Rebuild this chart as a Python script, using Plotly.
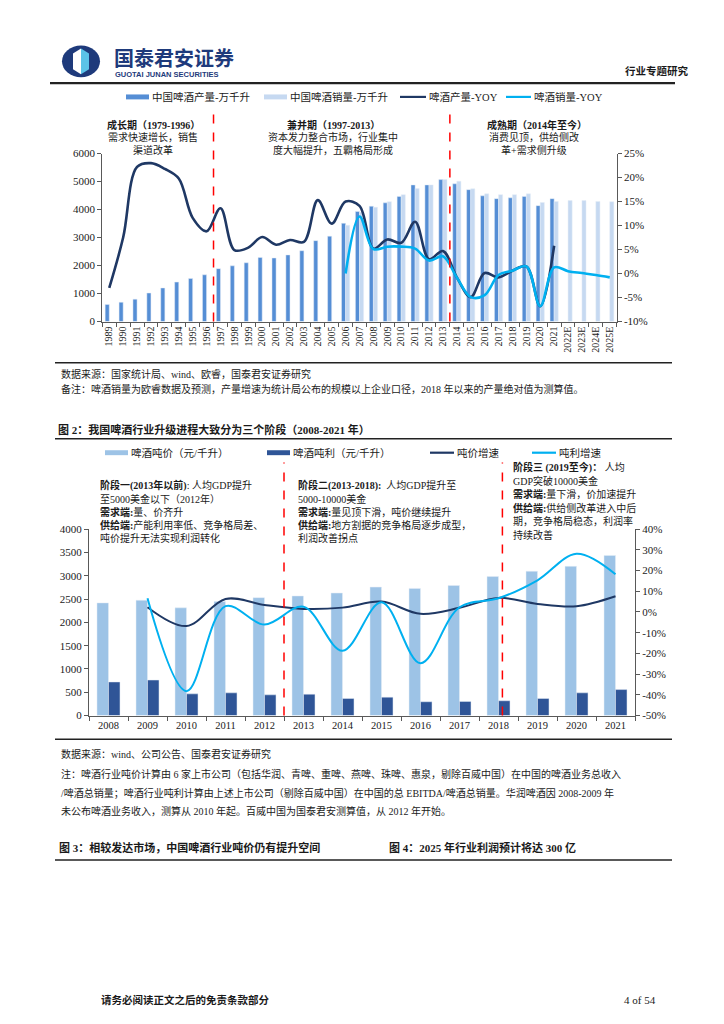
import plotly.graph_objects as go

W, H = 724, 1024


def px(x):
    return x / W


def py(y):
    return 1 - y / H


# ---------------- Chart 1 data ----------------
years1 = ["1989", "1990", "1991", "1992", "1993", "1994", "1995", "1996", "1997", "1998",
          "1999", "2000", "2001", "2002", "2003", "2004", "2005", "2006", "2007", "2008",
          "2009", "2010", "2011", "2012", "2013", "2014", "2015", "2016", "2017", "2018",
          "2019", "2020", "2021", "2022E", "2023E", "2024E", "2025E"]
production = [610, 690, 800, 1020, 1200, 1410, 1540, 1670, 1890, 1990,
              2100, 2290, 2270, 2380, 2530, 2890, 3050, 3510, 3930, 4120,
              4240, 4470, 4880, 4880, 5070, 4920, 4710, 4490, 4390, 4420,
              4470, 4140, 4390, None, None, None, None]
sales = [None] * 17 + [3440, 3900, 4080, 4280, 4530, 4750, 4880, 5070, 5010, 4740,
                       4560, 4530, 4530, 4560, 4250, 4290, 4320, 4320, 4290, 4280]
prod_yoy = [-3.0, 7.5, 22.2, 23.0, 21.8, 19.8, 11.6, 8.8, 13.6, 4.9,
            5.4, 7.6, 6.0, 7.0, 6.6, 15.3, 10.4, 15.0, 14.1, 5.2,
            7.1, 6.4, 10.8, 3.0, 4.7, -0.8, -4.9, 0.1, -0.8, 0.6,
            1.5, -6.8, 5.8]
sales_yoy = [0.0, 11.9, 5.1, 5.6, 5.6, 5.2, 2.7, 3.6, -0.8, -4.9,
             -4.5, -0.3, 0.6, 1.5, -6.8, 1.3, 0.5, 0.1, -0.3, -0.8]
left1_ticks = [0, 1000, 2000, 3000, 4000, 5000, 6000]
right1_ticks = [-10, -5, 0, 5, 10, 15, 20, 25]
right1_text = ["-10%", "-5%", "0%", "5%", "10%", "15%", "20%", "25%"]

# ---------------- Chart 2 data ----------------
years2 = ["2008", "2009", "2010", "2011", "2012", "2013", "2014",
          "2015", "2016", "2017", "2018", "2019", "2020", "2021"]
price = [2417, 2473, 2311, 2445, 2530, 2565, 2629, 2756, 2728, 2791, 2982, 3095, 3201, 3435]
profit = [721, 763, 466, 488, 445, 459, 367, 396, 297, 304, 318, 367, 488, 558]
price_growth = [None, 2.3, -6.8, 6.3, 3.4, 1.5, 2.1, 5.0, -0.9, 2.0, 6.8, 3.9, 2.8, 7.6]
profit_growth = [None, 6.6, -38.2, 2.8, -6.1, 2.5, -18.7, 4.7, -24.7, 2.3, 6.6, 15.3, 28.1, 18.2]
left2_ticks = [0, 500, 1000, 1500, 2000, 2500, 3000, 3500, 4000]
right2_ticks = [-50, -40, -30, -20, -10, 0, 10, 20, 30, 40]
right2_text = ["-50%", "-40%", "-30%", "-20%", "-10%", "0%", "10%", "20%", "30%", "40%"]

C_PROD = "#558ED5"
C_SALES = "#C6D9F1"
C_NAVY = "#1F3864"
C_CYAN = "#00B0F0"
C_PRICE = "#9DC3E6"
C_PROFIT = "#2F5597"
AX = "#595959"
TXT = "#1a1a1a"
NAVY_LOGO = "#1E3A7B"

FONT = "Liberation Serif, Noto Sans CJK SC"
CJK = "Noto Sans CJK SC"

fig = go.Figure()

# Chart 1 traces
fig.add_trace(go.Bar(x=years1, y=production, marker_color=C_PROD, name="中国啤酒产量-万千升",
                     xaxis="x", yaxis="y", showlegend=False))
fig.add_trace(go.Bar(x=years1, y=sales, marker_color=C_SALES, name="中国啤酒销量-万千升",
                     xaxis="x", yaxis="y", showlegend=False))
fig.add_trace(go.Scatter(x=years1[:len(prod_yoy)], y=prod_yoy, mode="lines", name="啤酒产量-YOY",
                         line=dict(color=C_NAVY, width=2.6, shape="spline", smoothing=1.0),
                         xaxis="x", yaxis="y2", showlegend=False))
fig.add_trace(go.Scatter(x=years1[17:], y=sales_yoy, mode="lines", name="啤酒销量-YOY",
                         line=dict(color=C_CYAN, width=2.6, shape="spline", smoothing=1.0),
                         xaxis="x", yaxis="y2", showlegend=False))

# Chart 2 traces
fig.add_trace(go.Bar(x=years2, y=price, marker_color=C_PRICE, name="啤酒吨价（元/千升）",
                     xaxis="x2", yaxis="y3", showlegend=False))
fig.add_trace(go.Bar(x=years2, y=profit, marker_color=C_PROFIT, name="啤酒吨利（元/千升）",
                     xaxis="x2", yaxis="y3", showlegend=False))
fig.add_trace(go.Scatter(x=years2, y=price_growth, mode="lines", name="吨价增速",
                         line=dict(color=C_NAVY, width=2, shape="spline", smoothing=1.0),
                         xaxis="x2", yaxis="y4", showlegend=False))
fig.add_trace(go.Scatter(x=years2, y=profit_growth, mode="lines", name="吨利增速",
                         line=dict(color=C_CYAN, width=2, shape="spline", smoothing=1.0),
                         xaxis="x2", yaxis="y4", showlegend=False))

axis_common = dict(showline=True, linecolor=AX, linewidth=1, ticks="outside", ticklen=4,
                   tickcolor=AX, showgrid=False, zeroline=False,
                   tickfont=dict(family="Liberation Serif", size=11, color=TXT))

fig.update_layout(
    width=W, height=H, autosize=False,
    margin=dict(l=0, r=0, t=0, b=0),
    paper_bgcolor="white", plot_bgcolor="rgba(0,0,0,0)",
    font=dict(family=FONT, color=TXT, size=10),
    barmode="group", bargap=0.41, bargroupgap=0,
    xaxis=dict(domain=[px(102.3), px(616.7)], anchor="y", type="category",
               tickson="boundaries", tickangle=-90,
               **{**axis_common, "tickfont": dict(family="Liberation Serif", size=10, color=TXT)}),
    yaxis=dict(domain=[py(319.3), py(149.3)], anchor="x", range=[0, 6000],
               tickvals=left1_ticks, **axis_common),
    yaxis2=dict(overlaying="y", side="right", anchor="x", range=[-10, 25],
                tickvals=right1_ticks, ticktext=right1_text, **axis_common),
    xaxis2=dict(domain=[px(89), px(635)], anchor="y3", type="category",
                tickson="boundaries",
                **{**axis_common, "tickfont": dict(family="Liberation Serif", size=10.5, color=TXT)}),
    yaxis3=dict(domain=[py(718), py(529.3)], anchor="x2", range=[0, 4000],
                tickvals=left2_ticks, **axis_common),
    yaxis4=dict(overlaying="y3", side="right", anchor="x2", range=[-50, 40],
                tickvals=right2_ticks, ticktext=right2_text, **axis_common),
)

shapes = []
annots = []


def hline(x0, x1, y, w=1.5, color="#222222"):
    shapes.append(dict(type="line", xref="paper", yref="paper", x0=px(x0), x1=px(x1),
                       y0=py(y), y1=py(y), line=dict(color=color, width=w)))


def text(x, y, s, size=10, anchor="left", family=FONT, color=TXT):
    annots.append(dict(x=px(x), y=py(y), xref="paper", yref="paper", text=s, showarrow=False,
                       xanchor=anchor, yanchor="middle", align=anchor, borderpad=0,
                       font=dict(family=family, size=size, color=color)))


def legend_rect(x0, x1, y, color, label, hgt=5):
    shapes.append(dict(type="rect", xref="paper", yref="paper", x0=px(x0), x1=px(x1),
                       y0=py(y + hgt / 2), y1=py(y - hgt / 2), fillcolor=color, line=dict(width=0)))
    text(x1 + 2, y, label, size=10.5)


def legend_line(x0, x1, y, color, label):
    shapes.append(dict(type="line", xref="paper", yref="paper", x0=px(x0), x1=px(x1),
                       y0=py(y), y1=py(y), line=dict(color=color, width=2.2)))
    text(x1 + 2, y, label, size=10.5)


def red_dash(xref, xval, ytop, ybot):
    shapes.append(dict(type="line", xref=xref, yref="paper", x0=xval, x1=xval,
                       y0=py(ybot), y1=py(ytop), line=dict(color="#FF0000", width=1.5, dash="dash")))


# ---------- Header ----------
shapes.append(dict(type="circle", xref="paper", yref="paper", x0=px(62), x1=px(100),
                   y0=py(72), y1=py(40), fillcolor=NAVY_LOGO, line=dict(width=0)))
hex_left = "M {a},{b} L {c},{d} L {c},{e} L {a},{f} Z".format(
    a=px(81), b=py(43), c=px(73), d=py(48), e=py(64), f=py(69))
hex_right = "M {a},{b} L {c},{d} L {c},{e} L {a},{f} Z".format(
    a=px(81), b=py(43), c=px(89), d=py(48), e=py(64), f=py(69))
shapes.append(dict(type="path", xref="paper", yref="paper", path=hex_left,
                   fillcolor="white", line=dict(width=0)))
shapes.append(dict(type="path", xref="paper", yref="paper", path=hex_right,
                   fillcolor="#5BC3E8", line=dict(width=0)))
text(113, 52, "<b>国泰君安证券</b>", size=20, family=CJK, color=NAVY_LOGO)
text(114, 69.5, "<b>GUOTAI JUNAN SECURITIES</b>", size=7.5, family="Liberation Sans", color=NAVY_LOGO)
text(690, 65, "<b>行业专题研究</b>", size=10.5, anchor="right", family=CJK)
hline(50, 675, 78, w=2.2)

# ---------- Chart 1 legend & notes ----------
legend_rect(126, 149, 92, C_PROD, "中国啤酒产量-万千升")
legend_rect(264, 287, 92, C_SALES, "中国啤酒销量-万千升")
legend_line(400, 426, 92, C_NAVY, "啤酒产量-YOY")
legend_line(506, 531, 92, C_CYAN, "啤酒销量-YOY")

text(153, 120, "<b>成长期（1979-1996）</b>", size=10, anchor="center")
text(153, 133, "需求快速增长，销售", size=10, anchor="center")
text(153, 146, "渠道改革", size=10, anchor="center")
text(333, 120, "<b>兼并期（1997-2013）</b>", size=10, anchor="center")
text(333, 133, "资本发力整合市场，行业集中", size=10, anchor="center")
text(333, 146, "度大幅提升，五霸格局形成", size=10, anchor="center")
text(537, 120, "<b>成熟期（2014年至今）</b>", size=10, anchor="center")
text(534, 133, "消费见顶，供给侧改", size=10, anchor="center")
text(534, 146, "革+需求侧升级", size=10, anchor="center")

red_dash("x", 7.5, 108, 319.3)
red_dash("x", 24.5, 108, 319.3)

hline(55, 672, 361)
text(60, 372, "数据来源：国家统计局、wind、欧睿，国泰君安证券研究", size=10)
text(60, 388, "备注：啤酒销量为欧睿数据及预测，产量增速为统计局公布的规模以上企业口径，2018 年以来的产量绝对值为测算值。", size=10)

# ---------- Chart 2 title, legend ----------
text(57, 429, "<b>图 2：我国啤酒行业升级进程大致分为三个阶段（2008-2021 年）</b>", size=11)
hline(55, 672, 438)
legend_rect(105, 128, 452, C_PRICE, "啤酒吨价（元/千升）")
legend_rect(267, 290, 452, C_PROFIT, "啤酒吨利（元/千升）")
legend_line(430, 454, 452, C_NAVY, "吨价增速")
legend_line(532, 556, 452, C_CYAN, "吨利增速")

s1 = ["<b>阶段一(2013年以前)</b>: 人均GDP提升",
      "至5000美金以下（2012年）",
      "<b>需求端:</b>量、价齐升",
      "<b>供给端:</b>产能利用率低、竞争格局差、",
      "吨价提升无法实现利润转化"]
s2 = ["<b>阶段二(2013-2018):</b>  人均GDP提升至",
      "5000-10000美金",
      "<b>需求端:</b>量见顶下滑，吨价继续提升",
      "<b>供给端:</b>地方割据的竞争格局逐步成型，",
      "利润改善拐点"]
s3 = ["<b>阶段三 (2019至今)：</b> 人均",
      "GDP突破10000美金",
      "<b>需求端:</b>量下滑，价加速提升",
      "<b>供给端:</b>供给侧改革进入中后",
      "期，竞争格局稳态，利润率",
      "持续改善"]
for i, s in enumerate(s1):
    text(99, 485 + 13.4 * i, s, size=10)
for i, s in enumerate(s2):
    text(297, 485 + 13.4 * i, s, size=10)
for i, s in enumerate(s3):
    text(512, 467 + 13.6 * i, s, size=10)

red_dash("x2", 4.5, 462, 718)
red_dash("x2", 10.1, 462, 718)

hline(55, 672, 742)
text(60, 757, "数据来源：wind、公司公告、国泰君安证券研究", size=10)
text(60, 777, "注：啤酒行业吨价计算由 6 家上市公司（包括华润、青啤、重啤、燕啤、珠啤、惠泉，剔除百威中国）在中国的啤酒业务总收入", size=10)
text(60, 796, "/啤酒总销量；啤酒行业吨利计算由上述上市公司（剔除百威中国）在中国的总 EBITDA/啤酒总销量。华润啤酒因 2008-2009 年", size=10)
text(60, 815, "未公布啤酒业务收入，测算从 2010 年起。百威中国为国泰君安测算值，从 2012 年开始。", size=10)

text(58, 851, "<b>图 3：相较发达市场，中国啤酒行业吨价仍有提升空间</b>", size=11)
text(388, 851, "<b>图 4：2025 年行业利润预计将达 300 亿</b>", size=11)
hline(55, 672, 864)

text(100, 1006, "<b>请务必阅读正文之后的免责条款部分</b>", size=10.5)
text(623, 1006, "4 of 54", size=11, family="Liberation Serif")

fig.update_layout(shapes=shapes, annotations=annots)
fig.write_html("out.html", config={"displayModeBar": False},
               post_script="document.body.style.margin='0px';document.body.style.overflow='hidden';")
